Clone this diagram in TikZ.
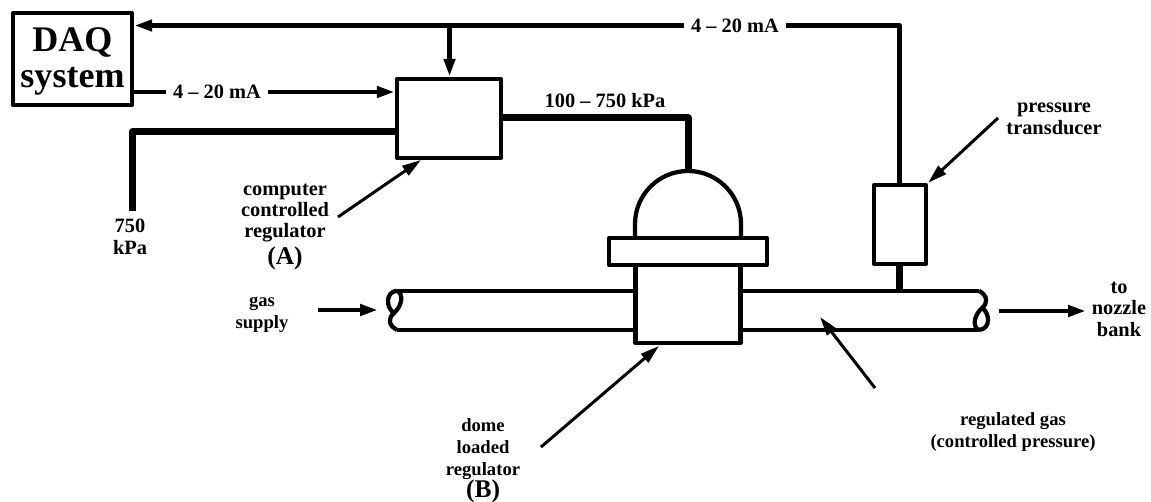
\documentclass[tikz,border=0pt]{standalone}
\usepackage{fontspec}
\setmainfont{Liberation Serif}
\usepackage{xcolor}
\usepackage{tikz}
\usetikzlibrary{shapes, arrows.meta, positioning}
\usetikzlibrary{calc}

\begin{document}
\begin{tikzpicture}
  [
    x=0.02cm, y=-0.02cm,
    line join=round,
    Box/.style={rectangle, draw=black, fill=white, line width=0.09cm, inner sep=0pt},
    Big/.style={align=center, font=\bfseries\fontsize{20.5}{20.5}\selectfont},
    Txt/.style={align=center, font=\bfseries\fontsize{11.6}{12.2}\selectfont},
    Small/.style={align=center, font=\bfseries\fontsize{10.6}{12.3}\selectfont},
    Tag/.style={font=\bfseries\fontsize{14.5}{15}\selectfont},
    Gap/.style={Txt, inner xsep=4pt, inner ysep=0pt},
    Signal/.style={draw, line width=0.09cm, -{Triangle[length=0.36cm, width=0.22cm]}},
    Wire/.style={draw, line width=0.09cm},
    Pointer/.style={draw, line width=0.06cm, -{Triangle[length=0.38cm, width=0.22cm]}},
    Feed/.style={draw, line width=0.14cm},
    Pipe/.style={draw, line width=0.085cm}
  ]
  \useasboundingbox (0,0) rectangle (1151,502);

  % Nodes
  \node[Box, minimum width=2.38cm, minimum height=1.84cm] (daq) at(72.5, 59) {};
  \node[Big] (daqtext) at(72.5, 61) {DAQ\\system};
  \node[Box, minimum width=2.08cm, minimum height=1.58cm] (regA) at(449, 118.5) {};
  \node[Box, minimum width=1.04cm, minimum height=1.58cm] (xdcr) at(900, 224.5) {};

  \node[Gap] (midmA) at(217, 92) {4 -- 20 mA};
  \node[Gap] (topmA) at(735, 25.5) {4 -- 20 mA};
  \node[Txt] (kpa) at(605, 101) {100 -- 750 kPa};
  \node[Txt] (supply) at(130, 237) {750\\kPa};
  \node[Txt] (ctrl) at(285, 213) {computer\\controlled\\regulator};
  \node[Tag] (tagA) at(285, 258) {(A)};
  \node[Small] (gas) at(262, 315) {gas\\supply};
  \node[Txt] (xdcrtext) at(1054, 119) {pressure\\transducer};
  \node[Txt] (nozzle) at(1119, 309) {to\\nozzle\\bank};
  \node[Small] (dome) at(483, 449) {dome\\loaded\\regulator};
  \node[Tag] (tagB) at(483, 491) {(B)};
  \node[Small] (reggas) at(1013, 432) {regulated gas\\(controlled pressure)};

  \coordinate (sigcorner) at(899.5, 25.5);
  \coordinate (sigjoin) at(449.5, 25.5);
  \coordinate (feedA) at(132, 132);
  \coordinate (feedB) at(132, 211);
  \coordinate (outcorner) at(688, 118);
  \coordinate (domeT) at(688, 172);
  \coordinate (stemB) at(899.5, 291);
  \coordinate (ptrA) at(338, 217);
  \coordinate (ptrAend) at(421, 160);
  \coordinate (ptrX) at(998, 118);
  \coordinate (ptrB) at(541, 447);
  \coordinate (ptrBend) at(659, 346);
  \coordinate (ptrG) at(875, 388);
  \coordinate (ptrGend) at(820, 317);
  \coordinate (inA) at(318, 310);
  \coordinate (inB) at(378, 310);
  \coordinate (outA) at(999, 311);
  \coordinate (outB) at(1086, 311);
  \coordinate (pipeTL) at(397, 290.7);
  \coordinate (pipeBL) at(397, 330);
  \coordinate (pipeTR) at(979, 290.7);
  \coordinate (pipeBR) at(979, 330);

  % Pipe
  \path [Pipe] (pipeTL) -- (pipeTR);
  \path [Pipe] (pipeBL) -- (pipeBR);
  \path [Pipe] (pipeTL) .. controls (385, 292) and (386, 308) .. (394, 313);
  \path [Pipe] (pipeTL) .. controls (404, 294) and (402, 306) .. (394, 313)
    .. controls (388, 318) and (388, 325) .. (pipeBL);
  \path [Pipe] (pipeBR) .. controls (991, 329) and (990, 313) .. (982, 308);
  \path [Pipe] (pipeBR) .. controls (972, 327) and (974, 315) .. (982, 308)
    .. controls (988, 303) and (988, 296) .. (pipeTR);

  % Regulator B
  \path [Pipe, fill=white] (635, 238) -- (635, 224) arc[start angle=180, end angle=360, radius=53] -- (741, 238);
  \node[Box, minimum width=2.1cm, minimum height=1.57cm] (body) at(688, 304) {};
  \node[Box, minimum width=3.16cm, minimum height=0.54cm] (flange) at(688, 251.5) {};

  % Lines
  \path [Wire] (xdcr.north -| sigcorner) -- (sigcorner) -- (topmA);
  \path [Signal] (topmA) -- (daq.east |- topmA);
  \path [Signal] (sigjoin) -- (regA.north -| sigjoin);
  \path [Wire] (daq.east |- midmA) -- (midmA);
  \path [Signal] (midmA) -- (regA.west |- midmA);
  \path [Feed] (regA.west |- feedA) -- (feedA) -- (feedB);
  \path [Feed] (regA.east |- outcorner) -- (outcorner) -- (domeT);
  \path [draw, line width=0.13cm] (xdcr.south -| stemB) -- (stemB);

  \path [Pointer] (ptrA) -- (ptrAend);
  \path [Pointer] (ptrX) -- (xdcr.north east);
  \path [Pointer] (ptrB) -- (ptrBend);
  \path [Pointer] (ptrG) -- (ptrGend);
  \path [Signal] (inA) -- (inB);
  \path [Signal] (outA) -- (outB);

\end{tikzpicture}
\end{document}
